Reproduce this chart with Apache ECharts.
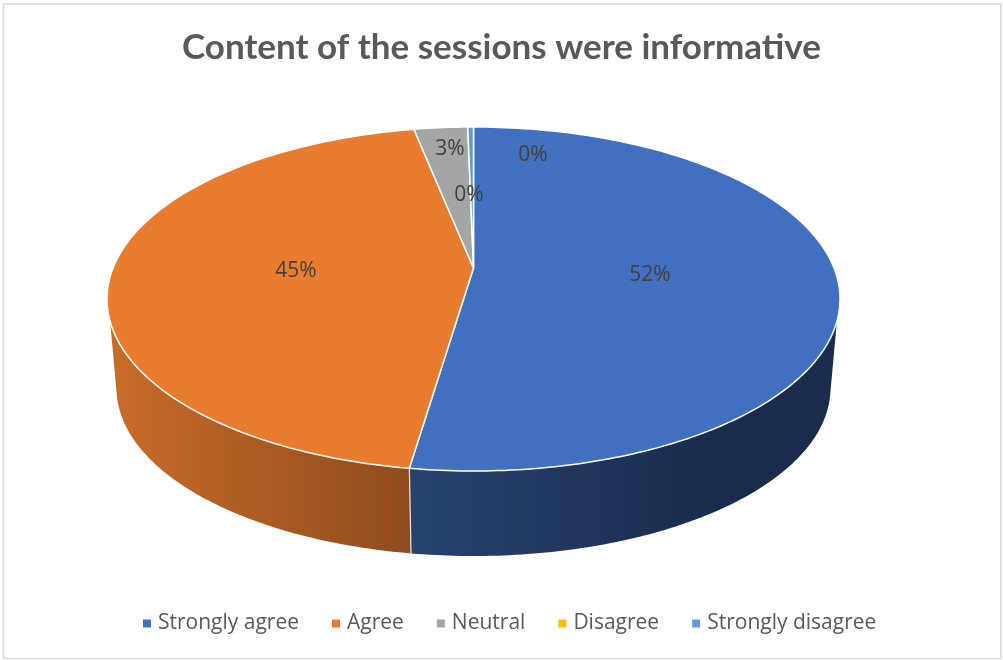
<!DOCTYPE html>
<html><head><meta charset="utf-8">
<style>html,body{margin:0;padding:0;background:#fff}#c{width:1003px;height:660px}</style>
<script src="https://cdn.jsdelivr.net/npm/echarts@6/dist/echarts.min.js"></script>
</head><body><div id="c"></div>
<script>
const categories = ['Strongly agree','Agree','Neutral','Disagree','Strongly disagree'];
const shares = [52.8, 44.6, 2.35, 0, 0.25];
const dataLabels = ['52%','45%','3%','0%','0%'];
const colors = ['#4170C0','#EA7C30','#A5A5A5','#FFC000','#5B9BD5'];
const sideStops = [
  [[0,'#27426F'],[0.7,'#1A2C4E'],[1,'#1A2C4E']],
  [[0,'#C96C29'],[1,'#8F4B1D']],
  null,null,null
];
const labelAt = [[650,275],[296,271],[450,149],[469,195],[533,155]];
const total = shares.reduce((a,b)=>a+b,0);
const apex = [473.5,268];
const top_ = {cx:473.5,cy:299,rx:366.5,ry:172};
const low = {cx:473.5,cy:388,rx:357,ry:168};
const rad = d=>d*Math.PI/180;
const pt = (e,d)=>[e.cx+e.rx*Math.sin(rad(d)), e.cy-e.ry*Math.cos(rad(d))];
const arc = (e,a,b)=>{const n=Math.max(2,Math.ceil(Math.abs(b-a))),o=[];for(let i=0;i<=n;i++)o.push(pt(e,a+(b-a)*i/n));return o;};
const visA=97.5, visB=262.5, lowA=92, lowB=268;

function renderSlice(idx){
  return function(){
    let before=0; for(let i=0;i<idx;i++) before+=shares[i];
    const a=before/total*360, b=(before+shares[idx])/total*360;
    const children=[];
    const s=Math.max(a,visA), e=Math.min(b,visB);
    if(e>s && sideStops[idx]){
      const ls=s<=visA?lowA:s, le=e>=visB?lowB:e;
      children.push({type:'polygon',silent:true,z2:1,
        shape:{points:arc(top_,s,e).concat(arc(low,le,ls))},
        style:{fill:new echarts.graphic.LinearGradient(0,0,1,0,sideStops[idx].map(p=>({offset:p[0],color:p[1]}))),stroke:null}});
      if(e<visB) children.push({type:'line',silent:true,z2:2,
        shape:{x1:pt(top_,e)[0],y1:pt(top_,e)[1],x2:pt(low,e)[0],y2:pt(low,e)[1]},
        style:{stroke:'#E8E8E8',lineWidth:1.2}});
    }
    if(b>a){
      children.push({type:'polygon',silent:true,z2:3,
        shape:{points:[apex].concat(arc(top_,a,b))},
        style:{fill:colors[idx],stroke:'#fff',lineWidth:1.5,lineJoin:'round'}});
    }
    children.push({type:'text',silent:true,z2:100,x:labelAt[idx][0],y:labelAt[idx][1],
      style:{text:dataLabels[idx],fill:'#404040',font:'21px "Open Sans"',align:'center',verticalAlign:'middle'}});
    return {type:'group',children};
  };
}

const chart = echarts.init(document.getElementById('c'),null,{renderer:'canvas'});
chart.setOption({
  animation:false,
  backgroundColor:'#fff',
  title:{text:'Content of the sessions were informative',left:'center',top:25,
    textStyle:{fontFamily:'Lato',fontWeight:'bold',fontSize:35,color:'#595959'}},
  legend:{left:138,top:608,icon:'rect',itemWidth:8,itemHeight:8,itemGap:33,selectedMode:false,
    textStyle:{fontFamily:'Open Sans',fontSize:21,color:'#595959',padding:[0,0,0,2]},
    data:categories},
  graphic:[{type:'rect',silent:true,z:-1,shape:{x:3.5,y:4,width:997.5,height:654.5},
    style:{fill:'none',stroke:'#D9D9D9',lineWidth:1.6}}],
  series:categories.map((name,i)=>({
    type:'custom',name,coordinateSystem:'none',
    itemStyle:{color:colors[i]},
    renderItem:renderSlice(i),
    data:[[shares[i]]]
  }))
});
</script></body></html>
